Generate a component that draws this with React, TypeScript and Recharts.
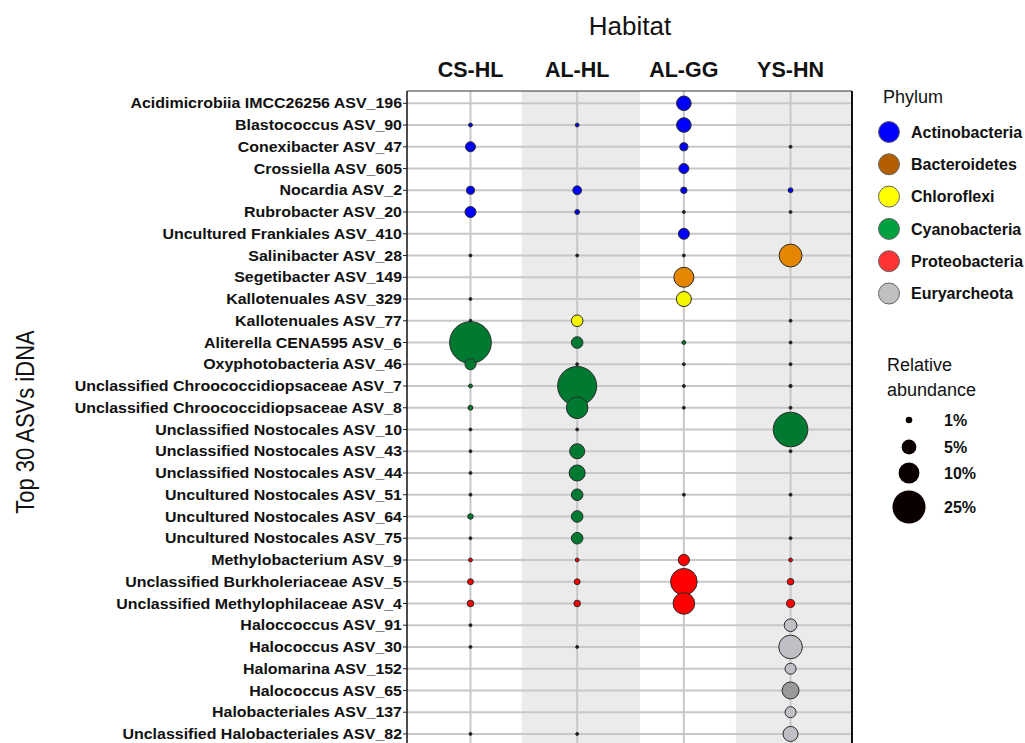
import React from 'react';
import { ScatterChart, Scatter, XAxis, YAxis, ZAxis, ReferenceArea, ReferenceLine, Cell } from 'recharts';

const habitats = ['CS-HL', 'AL-HL', 'AL-GG', 'YS-HN'];

const asvNames = [
  'Acidimicrobiia IMCC26256 ASV_196',
  'Blastococcus ASV_90',
  'Conexibacter ASV_47',
  'Crossiella ASV_605',
  'Nocardia ASV_2',
  'Rubrobacter ASV_20',
  'Uncultured Frankiales ASV_410',
  'Salinibacter ASV_28',
  'Segetibacter ASV_149',
  'Kallotenuales ASV_329',
  'Kallotenuales ASV_77',
  'Aliterella CENA595 ASV_6',
  'Oxyphotobacteria ASV_46',
  'Unclassified Chroococcidiopsaceae ASV_7',
  'Unclassified Chroococcidiopsaceae ASV_8',
  'Unclassified Nostocales ASV_10',
  'Unclassified Nostocales ASV_43',
  'Unclassified Nostocales ASV_44',
  'Uncultured Nostocales ASV_51',
  'Uncultured Nostocales ASV_64',
  'Uncultured Nostocales ASV_75',
  'Methylobacterium ASV_9',
  'Unclassified Burkholeriaceae ASV_5',
  'Unclassified Methylophilaceae ASV_4',
  'Haloccoccus ASV_91',
  'Halococcus ASV_30',
  'Halomarina ASV_152',
  'Halococcus ASV_65',
  'Halobacteriales ASV_137',
  'Unclassified Halobacteriales ASV_82',
];

// phylum index per ASV row
const rowPhylum = [0, 0, 0, 0, 0, 0, 0, 1, 1, 2, 2, 3, 3, 3, 3, 3, 3, 3, 3, 3, 3, 4, 4, 4, 5, 5, 5, 5, 5, 5];

// relative abundance (%) per habitat
const csHL = [0, 0.35, 2.3, 0, 1.5, 2.8, 0, 0.2, 0, 0.2, 0.2, 40, 2.8, 0.35, 0.55, 0.2, 0.2, 0.2, 0.2, 0.7, 0.2, 0.35, 0.8, 1.0, 0.2, 0.2, 0, 0, 0, 0.2];
const alHL = [0, 0.35, 0, 0, 1.8, 0.55, 0, 0.2, 0, 0, 3.1, 3.1, 0.2, 35, 10.7, 0.2, 5.2, 5.9, 3.1, 3.1, 3.1, 0.35, 0.8, 1.0, 0, 0.2, 0, 0, 0, 0.2];
const alGG = [4.9, 4.9, 1.5, 2.3, 0.95, 0.2, 2.8, 0.2, 9.2, 5.2, 0, 0.35, 0.2, 0.2, 0.2, 0, 0, 0, 0.2, 0, 0, 2.9, 16.3, 10.7, 0, 0, 0, 0, 0, 0];
const ysHN = [0, 0, 0.2, 0, 0.55, 0.2, 0, 12, 0, 0, 0.2, 0.2, 0.2, 0.25, 0.2, 27.5, 0.2, 0, 0.2, 0, 0.2, 0.35, 1.0, 1.5, 3.7, 12.8, 2.8, 6.6, 2.8, 5.2];

const phyla = ['Actinobacteria', 'Bacteroidetes', 'Chloroflexi', 'Cyanobacteria', 'Proteobacteria', 'Euryarcheota'];
const dotColors = ['#0000ff', '#e58600', '#f5f500', '#007a30', '#ff0000', '#bfbfc6'];
const legendColors = ['#0000ff', '#b35f00', '#ffff00', '#00a040', '#ff3333', '#c0c0c0'];

const sizeLegend = [1, 5, 10, 25];

const rowIdx = asvNames.map((_, i) => i);
const colIdx = [1, 2, 3, 4];
const habitatValues = [csHL, alHL, alGG, ysHN];

const FONT = '"Liberation Sans", Arial, sans-serif';

const seriesData = phyla.map((_, p) => {
  const pts: { x: number; y: number; z: number; fill: string }[] = [];
  rowIdx.forEach((r) => {
    if (rowPhylum[r] !== p) return;
    habitatValues.forEach((vals, c) => {
      if (vals[r] > 0) {
        // traces show up as plain dark dots in the original
        let fill = r === 27 ? '#9a9a9a' : dotColors[p];
        if (vals[r] < 0.3) fill = '#1a1a1a';
        pts.push({ x: c + 1, y: r, z: vals[r], fill });
      }
    });
  });
  return pts;
});

const YTick = (props: any) => {
  const { x, y, payload } = props;
  return (
    <g transform={`translate(${x},${y})`}>
      <text
        x={0}
        y={0}
        dy="0.36em"
        textAnchor="end"
        transform="scale(1.14,1)"
        fontFamily={FONT}
        fontWeight="bold"
        fontSize={14}
        fill="#111"
      >
        {asvNames[payload.value]}
      </text>
    </g>
  );
};

// bubble area is proportional to abundance: 25% -> r 16.5px
const radiusFor = (v: number) => 3.3 * Math.sqrt(v);

export default function App() {
  return (
    <div style={{ position: 'absolute', left: 0, top: 0, width: 1025, height: 743, overflow: 'hidden', background: '#fff', fontFamily: FONT }}>
      <div style={{ position: 'absolute', left: 530, top: 10, width: 200, textAlign: 'center', fontSize: 26, lineHeight: '32px', color: '#111' }}>
        Habitat
      </div>
      <div
        style={{
          position: 'absolute',
          left: 26,
          top: 422,
          transform: 'translate(-50%,-50%) rotate(-90deg) scaleY(1.2)',
          whiteSpace: 'nowrap',
          fontSize: 22,
          color: '#111',
        }}
      >
        Top 30 ASVs iDNA
      </div>
      <div style={{ position: 'absolute', left: 0, top: 0 }}>
        <ScatterChart width={1025} height={760} margin={{ top: 50, right: 173, bottom: 13, left: 7 }}>
          <XAxis
            type="number"
            dataKey="x"
            orientation="top"
            domain={[0.405, 4.576]}
            ticks={colIdx}
            tickFormatter={(v: number) => habitats[v - 1]}
            height={41}
            tickLine={false}
            tickSize={0}
            tickMargin={14}
            axisLine={{ stroke: '#333', strokeWidth: 1 }}
            tick={{ fontFamily: FONT, fontWeight: 'bold', fontSize: 21.5, fill: '#111' }}
            allowDataOverflow
          />
          <YAxis
            type="number"
            dataKey="y"
            reversed
            domain={[-0.566, 29.6]}
            ticks={rowIdx}
            interval={0}
            width={400}
            tickSize={4}
            tickMargin={1}
            tick={<YTick />}
            tickLine={{ stroke: '#222' }}
            axisLine={{ stroke: '#111', strokeWidth: 1.5 }}
            allowDataOverflow
          />
          <ZAxis type="number" dataKey="z" domain={[0, 40]} range={[0, 1368]} />
          <ReferenceArea x1={1.479} x2={2.589} fill="#ebebeb" fillOpacity={1} stroke="none" />
          <ReferenceArea x1={3.488} x2={4.576} fill="#ebebeb" fillOpacity={1} stroke="none" />
          {rowIdx.map((r) => (
            <ReferenceLine key={`h${r}`} y={r} stroke="#c8c8c8" strokeWidth={2} />
          ))}
          {colIdx.map((c) => (
            <ReferenceLine key={`v${c}`} x={c} stroke="#c8c8c8" strokeWidth={2} />
          ))}
          <ReferenceLine x={4.576} stroke="#111" strokeWidth={2} />
          {seriesData.map((pts, p) => (
            <Scatter key={phyla[p]} data={pts} stroke="#2a2a2a" strokeWidth={1} isAnimationActive={false}>
              {pts.map((pt, i) => (
                <Cell key={i} fill={pt.fill} />
              ))}
            </Scatter>
          ))}
        </ScatterChart>
      </div>
      <svg width={1025} height={743} style={{ position: 'absolute', left: 0, top: 0, pointerEvents: 'none' }}>
        <text x={883} y={97} dy="0.35em" fontFamily={FONT} fontSize={18} fill="#111">
          Phylum
        </text>
        {phyla.map((name, i) => (
          <g key={name}>
            <circle cx={889} cy={132 + i * 32.3} r={10.5} fill={legendColors[i]} stroke="#666" strokeWidth={1} />
            <text x={911} y={132 + i * 32.3} dy="0.36em" fontFamily={FONT} fontWeight="bold" fontSize={16} fill="#111">
              {name}
            </text>
          </g>
        ))}
        <text x={887} y={365} dy="0.35em" fontFamily={FONT} fontSize={18} fill="#111">
          Relative
        </text>
        <text x={887} y={390} dy="0.35em" fontFamily={FONT} fontSize={18} fill="#111">
          abundance
        </text>
        {sizeLegend.map((v, i) => {
          const cy = [420, 447, 473, 507][i];
          return (
            <g key={v}>
              <circle cx={909} cy={cy} r={radiusFor(v)} fill="#0a0000" />
              <text x={944} y={cy} dy="0.36em" fontFamily={FONT} fontWeight="bold" fontSize={16} fill="#111">
                {v}%
              </text>
            </g>
          );
        })}
      </svg>
    </div>
  );
}
